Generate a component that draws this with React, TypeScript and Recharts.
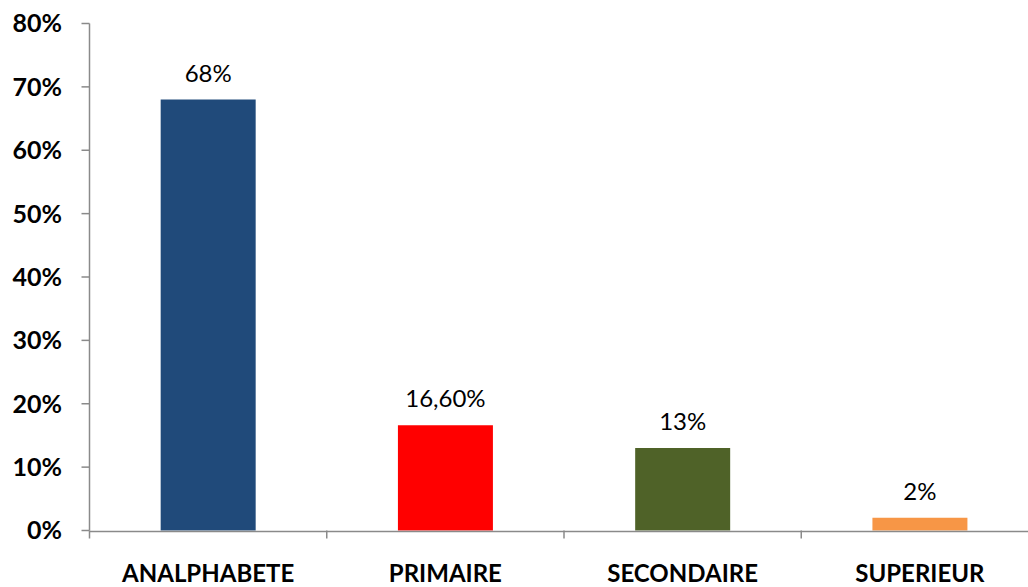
import { BarChart, Bar, XAxis, YAxis, Cell, LabelList } from 'recharts';

const levels = ['ANALPHABETE', 'PRIMAIRE', 'SECONDAIRE', 'SUPERIEUR'];
const shares = [68, 16.6, 13, 2];
const barColors = ['#204A7A', '#FF0000', '#4F6228', '#F79646'];
const yTicks = [0, 10, 20, 30, 40, 50, 60, 70, 80];
const bandEdges = [0, 1, 2, 3, 4];

const data = levels.map((level, i) => ({ level, share: shares[i], slot: i }));

const fmtShare = (v: number) =>
  Number.isInteger(v) ? `${v}%` : `${v.toFixed(2).replace('.', ',')}%`;

const axisGray = '#8a8a8a';

export default function App() {
  return (
    <div style={{ position: 'absolute', left: 0, top: 0, width: 1028, height: 587, overflow: 'hidden', background: '#fff' }}>
      <BarChart
        width={1060}
        height={587}
        data={data}
        margin={{ top: 23.5, right: 21.5, left: 0, bottom: 0 }}
        barCategoryGap="30%"
        style={{ fontFamily: 'Lato, sans-serif' }}
      >
        {/* tick marks sit on the category boundaries, so they get their own axis */}
        <XAxis
          xAxisId={0}
          dataKey="slot"
          type="number"
          domain={[0, 4]}
          allowDataOverflow
          ticks={bandEdges}
          interval={0}
          tickFormatter={() => ''}
          tick={{ fontSize: 1 }}
          tickSize={8}
          axisLine={false}
          tickLine={{ stroke: axisGray, strokeWidth: 1.5 }}
          height={1}
        />
        <XAxis
          xAxisId="cat"
          dataKey="level"
          height={55.5}
          tickLine={false}
          tickSize={0}
          tickMargin={33}
          axisLine={{ stroke: axisGray, strokeWidth: 1.5 }}
          tick={{ fill: '#000', fontSize: 24, fontWeight: 700 }}
          interval={0}
        />
        <YAxis
          width={89.5}
          domain={[0, 80]}
          ticks={yTicks}
          tickFormatter={(v: number) => `${v}%`}
          tickSize={8}
          tickMargin={19.5}
          axisLine={{ stroke: axisGray, strokeWidth: 1.5 }}
          tickLine={{ stroke: axisGray, strokeWidth: 1.5 }}
          tick={{ fill: '#000', fontSize: 25, fontWeight: 700 }}
        />
        <Bar dataKey="share" xAxisId="cat" isAnimationActive={false}>
          {data.map((d, i) => (
            <Cell key={d.level} fill={barColors[i]} />
          ))}
          <LabelList
            dataKey="share"
            position="top"
            offset={18}
            formatter={(v: number) => fmtShare(v)}
            style={{ fill: '#000', fontSize: 24 }}
          />
        </Bar>
      </BarChart>
    </div>
  );
}
